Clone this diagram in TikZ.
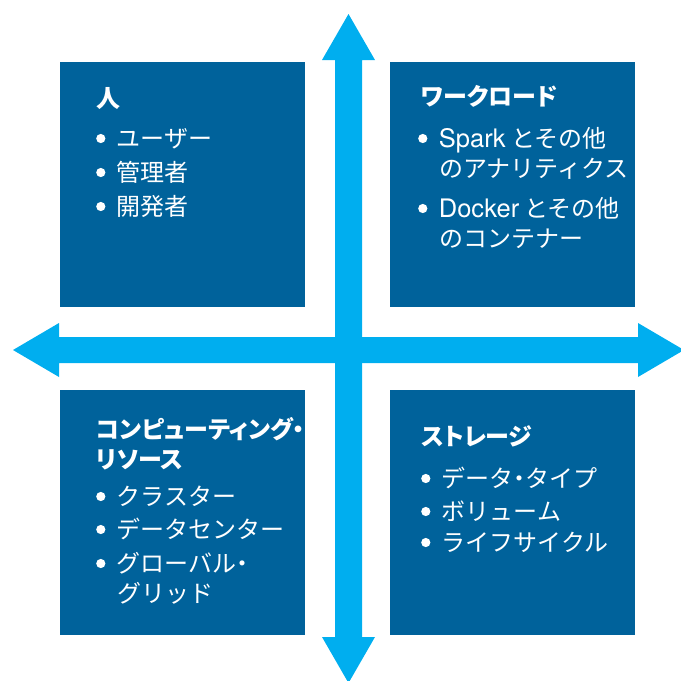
\documentclass[tikz,border=0pt]{standalone}
\usepackage{fontspec}
\setmainfont{TeX Gyre Heros}
\newfontfamily\jp{Noto Sans CJK JP}
\newfontfamily\jpp{Noto Sans CJK JP}[RawFeature=+palt]
\newfontfamily\latn{TeX Gyre Heros}
\definecolor{boxblue}{RGB}{0,98,155}
\definecolor{arrowcyan}{RGB}{0,174,239}
\newcommand\bul{\tikz[baseline=0pt]\fill[white] (4.6pt,8.5pt) circle (4.6pt);\hspace{11.5pt}}
\newcommand\lt[1]{{\latn\fontsize{25.5}{28}\selectfont #1}}
\newcommand\nd{{\jpp ・}}
\begin{document}
\begin{tikzpicture}[x=1pt,y=-1pt,
  quad/.style={fill=boxblue, draw=none},
  arr/.style={fill=arrowcyan, draw=none},
  ttl/.style={anchor=base west, text=white, font=\jpp\bfseries\fontsize{24}{28}\selectfont, inner sep=0pt},
  itm/.style={anchor=base west, text=white, font=\jp\fontsize{24}{28}\selectfont, inner sep=0pt},
  cont/.style={itm}]
\useasboundingbox (0,0) rectangle (681,681);
% quadrants
\fill[quad] (60,62) rectangle (305,307);
\fill[quad] (390,62) rectangle (635,307);
\fill[quad] (60,390) rectangle (305,635);
\fill[quad] (390,390) rectangle (635,635);
% vertical double arrow
\fill[arr] (335,60) -- (322,60) -- (348.5,14) -- (375,60) -- (362,60)
  -- (362,637) -- (375,637) -- (348.5,683) -- (322,637) -- (335,637) -- cycle;
% horizontal double arrow
\fill[arr] (59,337) -- (59,323) -- (13,350) -- (59,377) -- (59,363)
  -- (638,363) -- (638,377) -- (684,350) -- (638,323) -- (638,337) -- cycle;
% top-left
\node[ttl] (t1) at (96,107) {人};
\node[itm] (a1) at (96,147) {\bul ユーザー};
\node[itm] (a2) at (96,181) {\bul 管理者};
\node[itm] (a3) at (96,215) {\bul 開発者};
% top-right
\node[ttl] (t2) at (421,105) {ワークロード};
\node[itm] (b1) at (418,147) {\bul \lt{Spark} とその他};
\node[cont] (b1c) at (439,177) {のアナリティクス};
\node[itm] (b2) at (418,217) {\bul \lt{Docker} とその他};
\node[cont] (b2c) at (439,247) {のコンテナー};
% bottom-left
\node[ttl] (t3) at (96,438) {コンピューティング・};
\node[ttl] (t3b) at (96,468) {リソース};
\node[itm] (c1) at (96,505) {\bul クラスター};
\node[itm] (c2) at (96,538) {\bul データセンター};
\node[itm] (c3) at (96,572) {\bul グローバル\nd};
\node[cont] (c3c) at (117,602) {グリッド};
% bottom-right
\node[ttl] (t4) at (421,445) {ストレージ};
\node[itm] (d1) at (421,487) {\bul データ\nd タイプ};
\node[itm] (d2) at (421,520) {\bul ボリューム};
\node[itm] (d3) at (421,551) {\bul ライフサイクル};
\end{tikzpicture}
\end{document}
